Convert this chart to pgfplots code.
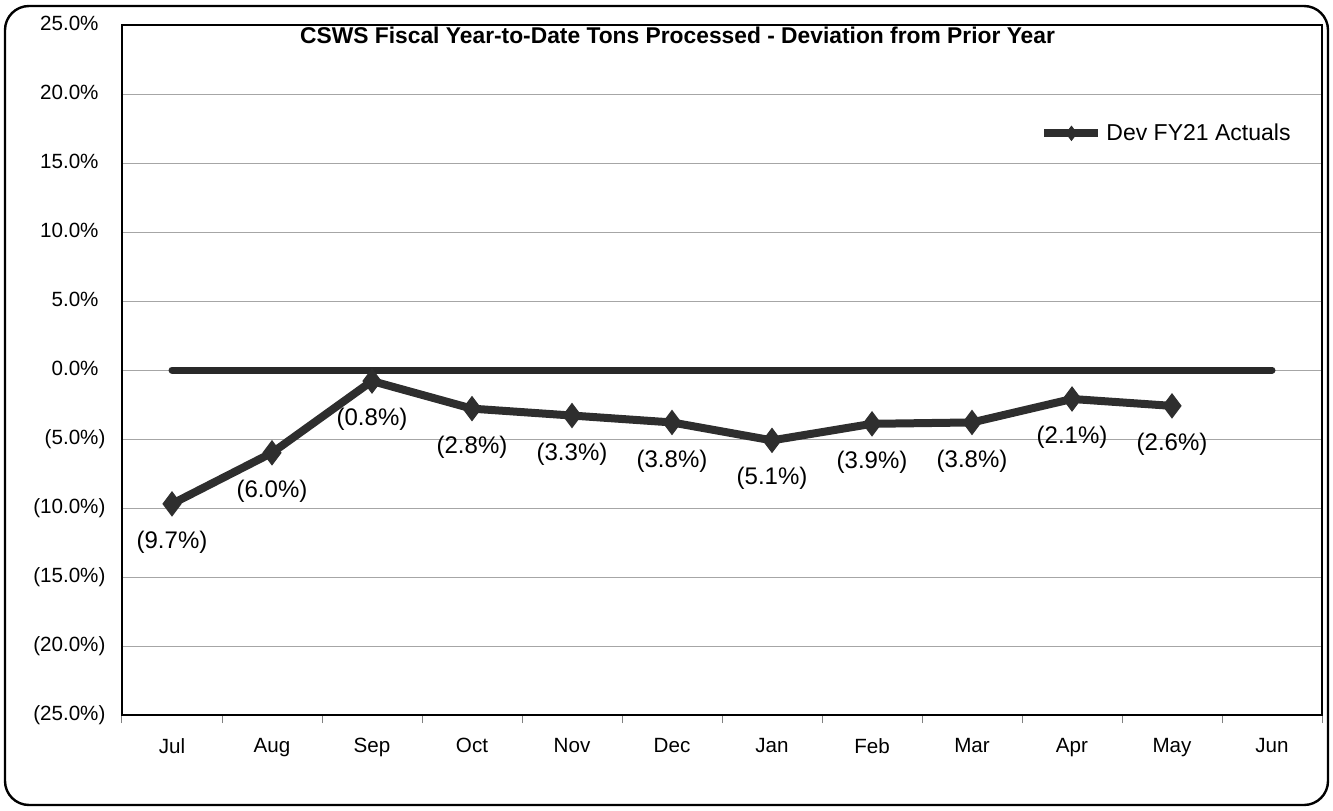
\documentclass[border=0pt]{standalone}
\usepackage{pgfplots}
\pgfplotsset{compat=1.18}
\usepackage{pgfplotstable}
\usepackage{fontspec}
\setmainfont{Liberation Sans}
\definecolor{serie}{HTML}{2E2E2E}
\pgfplotstableread{
x y lab
0 -9.7 (9.7\%)
1 -6.0 (6.0\%)
2 -0.8 (0.8\%)
3 -2.8 (2.8\%)
4 -3.3 (3.3\%)
5 -3.8 (3.8\%)
6 -5.1 (5.1\%)
7 -3.9 (3.9\%)
8 -3.8 (3.8\%)
9 -2.1 (2.1\%)
10 -2.6 (2.6\%)
}\devdata
\pgfplotstableread{
x y
0 0
11 0
}\zerodata
\begin{document}
\begin{tikzpicture}
\path[use as bounding box] (0,0) rectangle (666.5pt,405pt);
\draw[line width=1.2pt, rounded corners=12pt] (2.5pt,2.5pt) rectangle (664pt,402pt);
\begin{axis}[
  at={(61pt,47.5pt)}, anchor=south west,
  width=600pt, height=345pt, scale only axis,
  xmin=-0.5, xmax=11.5, ymin=-25, ymax=25,
  xtick={0,...,11},
  xticklabels={Jul,Aug,Sep,Oct,Nov,Dec,Jan,Feb,Mar,Apr,May,Jun},
  minor xtick={-0.5,0.5,...,11.5},
  xtick pos=bottom,
  major x tick style={draw=none},
  minor x tick style={gray, line width=0.5pt},
  minor tick length=4pt,
  tick align=outside,
  ytick={-25,-20,...,25},
  yticklabels={(25.0\%),(20.0\%),(15.0\%),(10.0\%),(5.0\%),0.0\%\phantom{)},5.0\%\phantom{)},10.0\%\phantom{)},15.0\%\phantom{)},20.0\%\phantom{)},25.0\%\phantom{)}},
  ytick style={draw=none},
  ymajorgrids, grid style={gray!70, line width=0.5pt},
  axis line style={line width=1pt, black},
  tick label style={font=\fontsize{10.3}{12}\selectfont},
  yticklabel style={xshift=-0.5pt},
  xticklabel style={yshift=-4pt},
  title={\bfseries CSWS Fiscal Year-to-Date Tons Processed - Deviation from Prior Year},
  title style={at={(0.463,1)}, anchor=north, yshift=-3.5pt, font=\fontsize{11.4}{13}\selectfont},
  legend style={at={(0.765,0.843)}, anchor=west, draw=none, fill=none, font=\fontsize{11.5}{13}\selectfont, inner sep=0pt},
  legend image code/.code={%
    \draw[#1, mark=none] (0cm,0cm) -- (0.95cm,0cm);
    \draw[#1, mark size=3.5pt, line width=0.5pt] plot coordinates {(0.475cm,0cm)};},
  clip=false,
]
\addplot[serie!90!black, line width=3.5pt, line cap=round, forget plot] table[x=x,y=y] {\zerodata};
\addplot[serie, line width=4pt, mark=diamond*, mark size=6pt, mark options={line width=0.5pt, fill=serie},
  nodes near coords, point meta=explicit symbolic,
  every node near coord/.style={anchor=north, yshift=-10pt, text=black, font=\fontsize{12}{14}\selectfont}]
  table[x=x,y=y,meta=lab] {\devdata};
\addlegendentry{Dev FY21 Actuals}
\end{axis}
\end{tikzpicture}
\end{document}
